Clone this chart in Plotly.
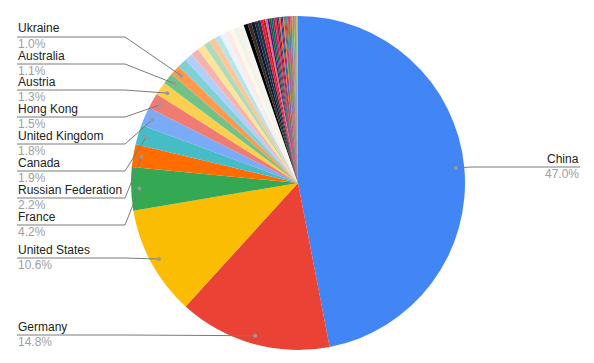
import math
import plotly.graph_objects as go

# ---------------- data ----------------
labeled_countries = ["China", "Germany", "United States", "France", "Russian Federation",
                     "Canada", "United Kingdom", "Hong Kong", "Austria", "Australia", "Ukraine"]
labeled_values = [47.0, 14.8, 10.6, 4.2, 2.2, 1.9, 1.8, 1.5, 1.3, 1.1, 1.0]

other_countries_a = ["Italy", "Netherlands", "Japan", "Switzerland", "Poland", "Belgium", "Spain",
                     "Sweden", "Korea", "Czech Republic", "Denmark", "Turkey", "India"]
other_values_a = [0.90, 0.80, 0.75, 0.70, 0.65, 0.60, 0.55, 0.50, 0.50, 0.45, 0.35, 0.35, 0.30]

other_countries_b = ["Brazil", "Mexico", "Norway", "Finland", "Ireland", "Portugal", "Hungary",
                     "Slovakia", "Romania", "Greece", "Israel", "Singapore", "Thailand", "Malaysia",
                     "Indonesia", "Viet Nam", "Philippines", "Chile", "Argentina", "Colombia",
                     "Peru", "South Africa", "Egypt", "Saudi Arabia", "United Arab Emirates",
                     "Qatar", "Kazakhstan", "Belarus", "Lithuania", "Latvia", "Estonia",
                     "Slovenia", "Croatia", "Serbia", "Bulgaria", "New Zealand", "Iran",
                     "Pakistan", "Bangladesh", "Morocco", "Tunisia", "Nigeria", "Kenya",
                     "Luxembourg", "Iceland", "Cyprus", "Malta", "Georgia"]
other_values_b = [0.40, 0.36, 0.32, 0.30, 0.28, 0.26, 0.21, 0.20, 0.19, 0.18, 0.17, 0.16,
                  0.15, 0.15, 0.14, 0.13, 0.12, 0.12, 0.11, 0.10, 0.10, 0.09, 0.09, 0.08,
                  0.08, 0.07, 0.07, 0.06, 0.06, 0.05, 0.05, 0.05, 0.04, 0.04, 0.04, 0.03,
                  0.03, 0.03, 0.03, 0.02, 0.02, 0.02, 0.02, 0.02, 0.01, 0.01, 0.01, 0.01]

# ---------------- styling ----------------
palette_main = ["#4285F4", "#EA4335", "#FBBC04", "#34A853", "#FF6D01", "#46BDC6",
                "#7BAAF7", "#F07B72", "#FCD04F", "#71C287", "#FF994D"]
palette_a = ["#7ED1D7", "#B3CEFB", "#F7B4AE", "#FDE49B", "#AEDCBA", "#FFC599", "#B5E5E8",
             "#ECF3FE", "#FDE9E8", "#FFF8E6", "#EAF6ED", "#FFF0E6", "#EDF8F9"]
palette_b = ["#000000", "#3d2b1f", "#0b1a33", "#1c2f4a", "#263238", "#e6194b", "#b71c1c",
             "#f06292", "#4a148c", "#1b5e20", "#00695c", "#ad1457", "#e91e63", "#880e4f",
             "#5d4037", "#ff5722", "#0d47a1", "#6a1b9a", "#f57c00", "#2e7d32", "#c2185b",
             "#00838f", "#827717", "#d81b60", "#3949ab", "#ef6c00", "#7b1fa2", "#00acc1",
             "#689f38", "#ff7043", "#5e35b1", "#43a047", "#fbc02d", "#8e24aa", "#26a69a",
             "#e53935", "#1e88e5", "#7cb342", "#ffb300", "#00897b", "#c0ca33", "#039be5",
             "#9ccc65", "#ab47bc", "#66bb6a", "#29b6f6", "#d4e157", "#7c4dff"]

# label rows (pixel y of each leader line), layout only
left_rows = {"Ukraine": 37, "Australia": 64, "Austria": 90, "Hong Kong": 117,
             "United Kingdom": 144, "Canada": 171, "Russian Federation": 198,
             "France": 225, "United States": 258, "Germany": 335}
right_rows = {"China": 167}

W, H = 594, 363
CX, CY, R = 298, 183, 167
LEFT_TEXT_X, LEFT_KNEE_X = 17, 125
RIGHT_TEXT_X, RIGHT_KNEE_X = 580, 2 * CX - 125
FONT = "Liberation Sans, Arial, sans-serif"

countries = labeled_countries + other_countries_a + other_countries_b
values = labeled_values + other_values_a + other_values_b
colors = palette_main + palette_a + palette_b
total = sum(values)

fig = go.Figure(go.Pie(
    labels=countries, values=values, sort=False, direction="clockwise", rotation=0,
    marker=dict(colors=colors, line=dict(width=0)),
    textinfo="none", hoverinfo="label+percent", showlegend=False,
    domain=dict(x=[(CX - R) / W, (CX + R) / W], y=[1 - (CY + R) / H, 1 - (CY - R) / H]),
))

def px(x):
    return x / W

def py(y):
    return 1 - y / H

shapes, annotations = [], []
cum = 0.0
for name, v in zip(countries, values):
    mid = (cum + v / 2) / total
    cum += v
    if name not in left_rows and name not in right_rows:
        continue
    th = mid * 2 * math.pi
    dx = CX + 0.95 * R * math.sin(th)
    dy = CY - 0.95 * R * math.cos(th)
    pct = f"{v / total * 100:.1f}%"
    if name in left_rows:
        ly = left_rows[name]
        tx, kx, anchor = LEFT_TEXT_X, LEFT_KNEE_X, "left"
    else:
        ly = right_rows[name]
        tx, kx, anchor = RIGHT_TEXT_X, RIGHT_KNEE_X, "right"
    path = f"M {px(tx)} {py(ly)} L {px(kx)} {py(ly)} L {px(dx)} {py(dy)}"
    shapes.append(dict(type="path", path=path, xref="paper", yref="paper",
                       line=dict(color="#7a7a7a", width=1), layer="above"))
    shapes.append(dict(type="circle", xref="paper", yref="paper", xsizemode="pixel",
                       ysizemode="pixel", xanchor=px(dx), yanchor=py(dy),
                       x0=-2, x1=2, y0=-2, y1=2, fillcolor="#999999",
                       line=dict(width=0), layer="above"))
    annotations.append(dict(text=name, x=px(tx), y=py(ly - 8.5), xref="paper", yref="paper",
                            xanchor=anchor, yanchor="middle", showarrow=False, borderpad=0,
                            font=dict(family=FONT, size=12, color="#222222")))
    annotations.append(dict(text=pct, x=px(tx), y=py(ly + 7), xref="paper", yref="paper",
                            xanchor=anchor, yanchor="middle", showarrow=False, borderpad=0,
                            font=dict(family=FONT, size=12, color="#9e9e9e")))

fig.update_layout(width=W, height=H, autosize=False,
                  margin=dict(l=0, r=0, t=0, b=0),
                  paper_bgcolor="white", plot_bgcolor="white",
                  shapes=shapes, annotations=annotations,
                  font=dict(family=FONT, size=12))

fig.write_html("out.html", config={"displayModeBar": False},
               post_script="document.body.style.margin='0';document.body.style.padding='0';")
